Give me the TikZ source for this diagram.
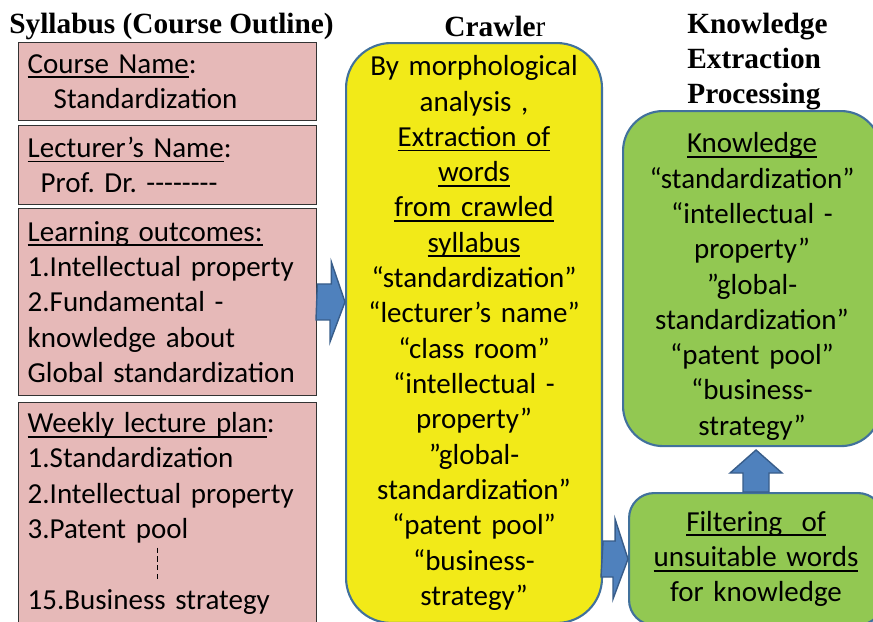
\documentclass[tikz,border=0pt]{standalone}
\usepackage{fontspec}
\setmainfont{Carlito}
\newfontfamily\headfont{Liberation Serif}
\usetikzlibrary{positioning,calc}
\definecolor{pinkfill}{RGB}{230,185,184}
\definecolor{crawlyellow}{RGB}{242,234,24}
\definecolor{leafgreen}{RGB}{146,200,82}
\definecolor{edgeblue}{RGB}{65,113,156}
\definecolor{arrowblue}{RGB}{79,129,189}
\definecolor{arrowedge}{RGB}{56,93,138}
\newcommand\undl[1]{\leavevmode\setbox0=\hbox{#1}\rlap{\rule[-2.8pt]{\wd0}{1pt}}\box0}
\frenchspacing

\begin{document}
\begin{tikzpicture}[x=0.02cm,y=-0.02cm,
	font=\fontsize{16.5}{20.1}\selectfont,
	headtitle/.style={font=\fontsize{16.7}{19.92}\headfont\bfseries,inner sep=0pt},
	sylbox/.style={
		draw=black!80,line width=0.8pt,fill=pinkfill,
		anchor=north west,
		minimum width=5.96cm,
		text width=5.6cm,
		inner xsep=0.18cm,
		align=left,
	},
	crawlbox/.style={
		draw=edgeblue,line width=1.2pt,fill=crawlyellow,
		rounded corners=0.9cm,
		anchor=north west,
		text width=4.8cm,
		align=center,
	},
	leafbox/.style={
		draw=edgeblue,line width=1.2pt,fill=leafgreen,
		anchor=north west,
		text width=4.7cm,
		align=center,
	},
	barrow/.style={draw=arrowedge,line width=0.8pt,fill=arrowblue,line join=miter},
]
	\useasboundingbox (0,0) rectangle (873,622);
	\clip (0,0) rectangle (873,622);

	% titles
	\node[headtitle] (syltitle) at (171.5,26) {Syllabus (Course Outline)};
	\node[headtitle] (crawltitle) at (495,26) {Crawle{\mdseries r}};
	\node[headtitle,align=left,anchor=west] (ketitle) at (687,62)
		{Knowledge\\Extraction\\Processing};

	% syllabus
	\node[sylbox,minimum height=1.56cm] (cname) at (18,42)
		{\undl{Course Name}:\\\hspace*{0.52cm}Standardization};
	\node[sylbox,minimum height=1.58cm,below=0.07cm of cname] (lname)
		{\undl{Lecturer’s Name}:\\\hspace*{0.26cm}Prof. Dr. -{}-{}-{}-{}-{}-{}-{}-};
	\node[sylbox,minimum height=3.74cm,below=0.05cm of lname] (lo)
		{\undl{Learning outcomes:}\\1.Intellectual property\\2.Fundamental -\\knowledge about\\Global standardization};
	\node[sylbox,minimum height=4.44cm,below=0.11cm of lo] (plan)
		{\undl{Weekly lecture plan}:\\1.Standardization\\2.Intellectual property\\3.Patent pool\\\mbox{}\\15.Business strategy};
	\draw[dash pattern=on 3pt off 2pt] ($(plan.north west)+(139,146)$) -- ++(0,35);

	% crawler
	\node[crawlbox,minimum width=5.12cm,minimum height=11.6cm] (crawl) at (345,42)
		{By morphological\\analysis ,\\\undl{Extraction of}\\\undl{words}\\\undl{from crawled}\\\undl{syllabus}\\“standardization”\\“lecturer’s name”\\“class room”\\“intellectual -\\property”\\”global-\\standardization”\\“patent pool”\\“business-\\strategy”};

	% knowledge extraction
	\node[leafbox,rounded corners=0.8cm,minimum width=5.16cm,minimum height=6.66cm] (know) at (622,110)
		{\rule{0pt}{20.4pt}\undl{Knowledge}\\“standardization”\\“intellectual -\\property”\\”global-\\standardization”\\“patent pool”\\“business-\\strategy”};
	\node[leafbox,rounded corners=0.5cm,minimum width=5.08cm,minimum height=2.64cm] (filt) at (628,492)
		{\undl{Filtering\ \ of}\\\undl{unsuitable words}\\for knowledge};

	% block arrows
	\draw[barrow] (lo.east) ++(0,-18) -- ++(14,0) -- ++(0,-22) -- (lo.east -| crawl.west)
		-- ++(-15,40) -- ++(0,-22) -- ++(-14,0) -- cycle;
	\draw[barrow] (crawl.east |- filt.west) ++(0,-18) -- ++(12,0) -- ++(0,-22) -- (filt.west)
		-- ++(-15,40) -- ++(0,-22) -- ++(-12,0) -- cycle;
	\draw[barrow] (filt.north) ++(-13,0) -- ++(0,-19) -- ++(-13,0) -- ($(filt.north)+(0,-42)$)
		-- ++(26,23) -- ++(-13,0) -- ++(0,19) -- cycle;
\end{tikzpicture}
\end{document}
